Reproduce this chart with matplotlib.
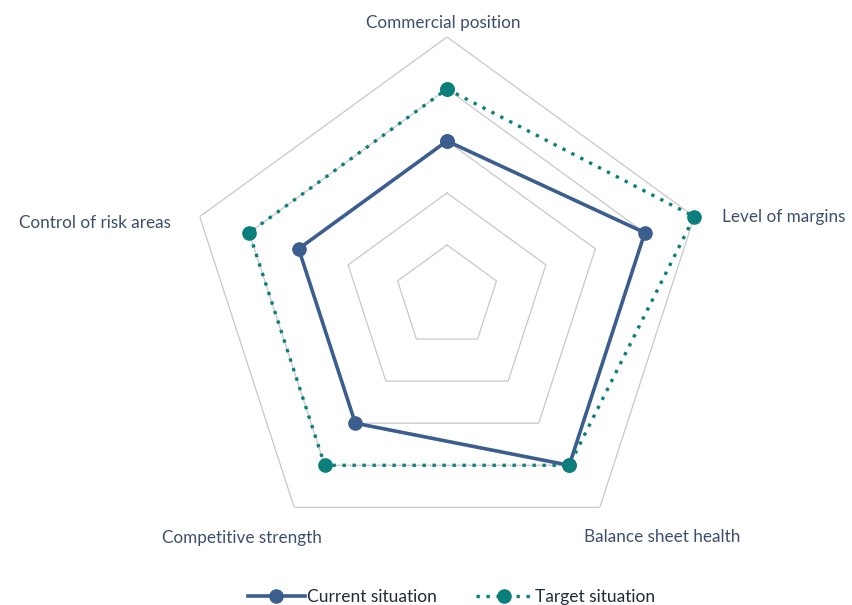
import matplotlib
matplotlib.use('Agg')
import matplotlib.pyplot as plt
import numpy as np

# radar data
categories = ["Commercial position", "Level of margins", "Balance sheet health",
              "Competitive strength", "Control of risk areas"]
current = [3, 4, 4, 3, 3]
target = [4, 5, 4, 4, 4]
rings = [1, 2, 3, 4, 5]

TEXT = '#3d4f6e'
BLUE = '#3b5e8f'
TEAL = '#0b7f7b'
GRID = '#c8c8c8'

plt.rcParams['font.family'] = ['Lato', 'DejaVu Sans']

W, H = 852, 605
fig = plt.figure(figsize=(W / 100, H / 100), dpi=100)
cx, cy, R = 447, 297, 260
ax = fig.add_axes([(cx - R) / W, (H - cy - R) / H, 2 * R / W, 2 * R / H],
                  projection='polar')
ax.set_theta_offset(np.pi / 2)
ax.set_theta_direction(-1)
ax.set_ylim(0, max(rings))
ax.grid(False)
ax.spines['polar'].set_visible(False)
ax.set_xticks([])
ax.set_yticks([])
ax.patch.set_alpha(0)

n = len(categories)
ang = np.linspace(0, 2 * np.pi, n, endpoint=False)
ang_c = np.append(ang, ang[0])

# pentagon grid
for r in rings:
    ax.plot(ang_c, [r] * (n + 1), color=GRID, lw=0.9, zorder=1)


def closed(v):
    return list(v) + [v[0]]


ax.plot(ang_c, closed(current), color=BLUE, lw=2.6, marker='o', ms=9.5,
        label='Current situation', zorder=2, clip_on=False)
ax.plot(ang_c, closed(target), color=TEAL, lw=2.4, dashes=(1, 2),
        marker='o', ms=9.5, label='Target situation', zorder=3, clip_on=False)

# axis labels (offsets in px from outer vertex)
offsets = [(-4, 14, 'center'), (28, 0, 'left'), (62, -30, 'center'),
           (-52, -31, 'center'), (-29, -6, 'right')]
for a, name, (dx, dy, ha) in zip(ang, categories, offsets):
    ax.annotate(name, xy=(a, max(rings)), xytext=(dx * 0.72, dy * 0.72),
                textcoords='offset points', ha=ha, va='center',
                fontsize=12.3, color=TEXT, annotation_clip=False)

leg = fig.legend(loc='lower center', bbox_to_anchor=(0.53, -0.026), ncol=2,
                 frameon=False, fontsize=12.5, handlelength=3.3,
                 columnspacing=2.2, handletextpad=0.15)
for t in leg.get_texts():
    t.set_color('#1f2a3a')

fig.savefig('out.png', dpi=100)
